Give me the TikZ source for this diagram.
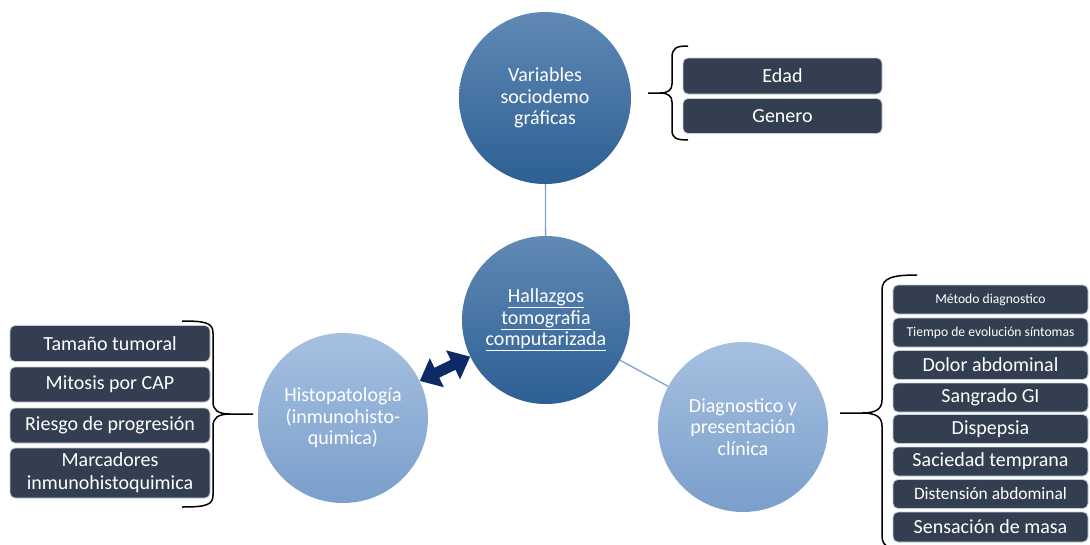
\documentclass[tikz,border=0pt]{standalone}
\usepackage{fontspec}
\setmainfont{Carlito}
\usetikzlibrary{arrows.meta}
\definecolor{darktop}{HTML}{6089B4}
\definecolor{darkbot}{HTML}{2D5F94}
\definecolor{lighttop}{HTML}{A6C0E1}
\definecolor{lightbot}{HTML}{7A9FCB}
\definecolor{boxfill}{HTML}{333F50}
\definecolor{boxline}{HTML}{C3CDDB}
\definecolor{linkc}{HTML}{7EA3D0}
\definecolor{arrowc}{HTML}{0D2A66}
\tikzset{
  darkcirc/.style={circle, minimum size=172pt, inner sep=0pt, top color=darktop, bottom color=darkbot, draw=none, text=white, align=center, font=\fontsize{20}{21.5}\selectfont},
  lightcirc/.style={circle, minimum size=170pt, inner sep=0pt, top color=lighttop, bottom color=lightbot, draw=none, text=white, align=center, font=\fontsize{20}{21.5}\selectfont},
  listbox/.style={draw=boxline, line width=0.8pt, fill=boxfill, rounded corners=5pt, text=white, inner sep=0pt, align=center, font=\fontsize{20}{22}\selectfont},
  link/.style={draw=linkc, line width=1.3pt},
  bracec/.style={draw=black, line width=1.5pt},
}
\begin{document}
\begin{tikzpicture}[x=1pt,y=-1pt]
\useasboundingbox (0,0) rectangle (1090,544);
\fill[white] (0,0) rectangle (1090,544);

% circles
\node[darkcirc] (V) at (545,98) {Variables\\sociodemo\\gráficas};
\node[darkcirc, minimum size=168pt] (C) at (546,320) {\underline{Hallazgos}\\\underline{tomografia}\\\underline{computarizada}};
\node[lightcirc] (H) at (343,418) {Histopatología\\(inmunohisto-\\quimica)};
\node[lightcirc] (D) at (743,427) {Diagnostico y\\presentación\\clínica};

% connectors
\draw[link] (V) -- (C);
\draw[link] (C) -- (D);
\draw[arrowc, line width=11pt, {Triangle[length=19pt,width=31pt]}-{Triangle[length=19pt,width=31pt]}] (H) -- (C);

% top right list
\node[listbox, minimum width=199pt, minimum height=36pt] (edad) at (782.5,76) {Edad};
\node[listbox, minimum width=199pt, minimum height=35pt] (genero) at (782.5,116) {Genero};

% left list
\node[listbox, minimum width=200pt, minimum height=36pt] (tam) at (110,343.5) {Tamaño tumoral};
\node[listbox, minimum width=200pt, minimum height=35pt] (mit) at (110,384.5) {Mitosis por CAP};
\node[listbox, minimum width=200pt, minimum height=35pt] (rie) at (110,425.5) {Riesgo de progresión};
\node[listbox, minimum width=200pt, minimum height=50pt, font=\fontsize{20}{23}\selectfont] (mar) at (110,473) {Marcadores\\inmunohistoquimica};

% right list
\node[listbox, minimum width=195pt, minimum height=29pt, font=\fontsize{13.6}{15}\selectfont] (met) at (990.5,299.5) {Método diagnostico};
\node[listbox, minimum width=195pt, minimum height=29pt, font=\fontsize{13.6}{15}\selectfont] (tie) at (990.5,332.5) {Tiempo de evolución síntomas};
\node[listbox, minimum width=195pt, minimum height=29pt] (dol) at (990.5,365) {Dolor abdominal};
\node[listbox, minimum width=195pt, minimum height=29pt] (san) at (990.5,397.5) {Sangrado GI};
\node[listbox, minimum width=195pt, minimum height=29pt] (dis) at (990.5,429) {Dispepsia};
\node[listbox, minimum width=195pt, minimum height=29pt] (sac) at (990.5,461.5) {Saciedad temprana};
\node[listbox, minimum width=195pt, minimum height=29pt, font=\fontsize{17.4}{19}\selectfont] (dist) at (990.5,494) {Distensión abdominal};
\node[listbox, minimum width=195pt, minimum height=30pt] (sen) at (990.5,527) {Sensación de masa};

% braces
\draw[bracec] (688,46) .. controls (676,46) and (672,48) .. (672,58) -- (672,84)
  .. controls (672,90) and (668,93) .. (660,93) -- (648,93);
\draw[bracec] (660,93) .. controls (668,93) and (672,96) .. (672,102) -- (672,130)
  .. controls (672,138) and (676,140) .. (688,140);

\draw[bracec] (182,321) .. controls (206,321) and (213,323) .. (213,333) -- (213,402)
  .. controls (213,410) and (218,414) .. (230,414) -- (253,414);
\draw[bracec] (230,414) .. controls (218,414) and (213,418) .. (213,426) -- (213,495)
  .. controls (213,505) and (206,507) .. (182,507);

\draw[bracec] (917,275) .. controls (892,275) and (882,278) .. (882,290) -- (882,400)
  .. controls (882,409) and (876,413) .. (862,413) -- (840,413);
\draw[bracec] (862,413) .. controls (876,413) and (882,417) .. (882,426) -- (882,536)
  .. controls (882,548) and (892,551) .. (917,551);
\end{tikzpicture}
\end{document}
